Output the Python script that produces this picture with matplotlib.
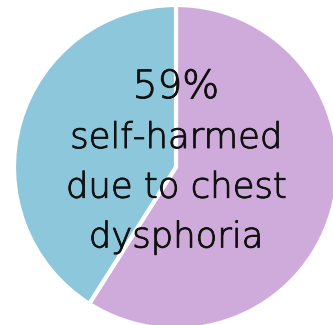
import matplotlib
matplotlib.use("Agg")
import matplotlib.pyplot as plt
import matplotlib.patheffects as pe

labels = ["Self-harmed due to chest dysphoria", "Other"]
shares = [59, 41]
colors = ["#CFABDB", "#8DC7DC"]
headline = "59%"
caption = ["self-harmed", "due to chest", "dysphoria"]

fig = plt.figure(figsize=(3.33, 3.25), dpi=100)
ax = fig.add_axes([0, 0, 1, 1])
ax.pie(shares, colors=colors, startangle=90, counterclock=False,
       radius=1.0, center=(0, 0),
       wedgeprops=dict(edgecolor="white", linewidth=3.0))
ax.set_aspect("auto")
ax.set_xlim(-176 / 162, (333 - 176) / 162)
ax.set_ylim(-(325 - 167) / 162, 167 / 162)
ax.axis("off")

ink = "#111111"
font = ["DejaVu Sans"]
# thin face with a slight outline gives a book-weight stroke
stroke = [pe.withStroke(linewidth=0.65, foreground=ink)]
ax.text(0.0, (167 - 98) / 162, headline, ha="center", va="baseline",
        fontsize=28, family=font, weight="light", color=ink,
        path_effects=stroke)
for i, line in enumerate(caption):
    y = (167 - (148 + 49.7 * i)) / 162
    ax.text(0.0, y, line, ha="center", va="baseline",
            fontsize=25.5, family=font, weight="light", color=ink,
            path_effects=stroke)

fig.savefig("out.png", dpi=100)
